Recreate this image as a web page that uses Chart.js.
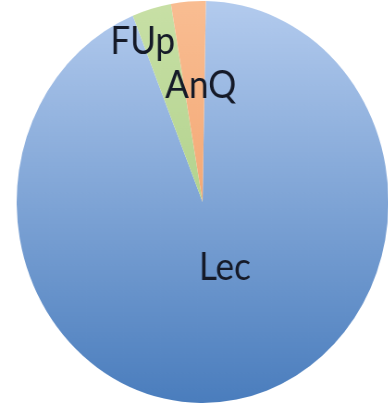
<!DOCTYPE html>
<html>
<head>
<meta charset="utf-8">
<script src="https://cdn.jsdelivr.net/npm/chart.js@4"></script>
<style>
  html, body { margin: 0; padding: 0; background: #ffffff; overflow: hidden; width: 388px; height: 413px; }
  #wrap { position: absolute; left: 0; top: 0; width: 420px; height: 413px; transform: scaleX(0.925); transform-origin: 0 0; }
</style>
</head>
<body>
<div id="wrap"><canvas id="c"></canvas></div>
<script>
// Data
const categories = ["Lec", "FUp", "AnQ"];
const shares = [93.6, 3.4, 3.0];
// Colour stops (top, bottom) per slice
const colourTop = ["#b3cbee", "#c8e0a6", "#f9bd92"];
const colourBottom = ["#4a7dbd", "#9ec676", "#ef955a"];
// Label placement: [angle from top (deg, clockwise), fraction of radius]
const labelPlace = [[160, 0.35], [-22, 0.86], [-1, 0.58]];

function sliceFill(ctx) {
  const chart = ctx.chart;
  const area = chart.chartArea;
  if (!area) return colourTop[ctx.dataIndex];
  const g = chart.ctx.createLinearGradient(0, area.top, 0, area.bottom);
  g.addColorStop(0, colourTop[ctx.dataIndex]);
  g.addColorStop(1, colourBottom[ctx.dataIndex]);
  return g;
}

const labelPlugin = {
  id: 'sliceLabels',
  afterDatasetsDraw(chart) {
    const meta = chart.getDatasetMeta(0);
    const c = chart.ctx;
    c.save();
    c.font = '38px Lato';
    c.fillStyle = '#151a28';
    c.textAlign = 'center';
    c.textBaseline = 'middle';
    meta.data.forEach((arc, i) => {
      const p = arc.getProps(['x', 'y', 'outerRadius'], true);
      const a = labelPlace[i][0] * Math.PI / 180;
      const d = labelPlace[i][1] * p.outerRadius;
      const x = p.x + d * Math.sin(a);
      const y = p.y - d * Math.cos(a);
      c.fillText(categories[i], x, y);
    });
    c.restore();
  }
};

new Chart(document.getElementById('c'), {
  type: 'pie',
  data: {
    labels: categories,
    datasets: [{
      data: shares,
      backgroundColor: sliceFill,
      borderWidth: 0
    }]
  },
  options: {
    responsive: true,
    maintainAspectRatio: false,
    animation: false,
    rotation: 1,
    layout: { padding: { left: 18, right: 0, top: 1, bottom: 10 } },
    plugins: { legend: { display: false }, tooltip: { enabled: false } }
  },
  plugins: [labelPlugin]
});
</script>
</body>
</html>
